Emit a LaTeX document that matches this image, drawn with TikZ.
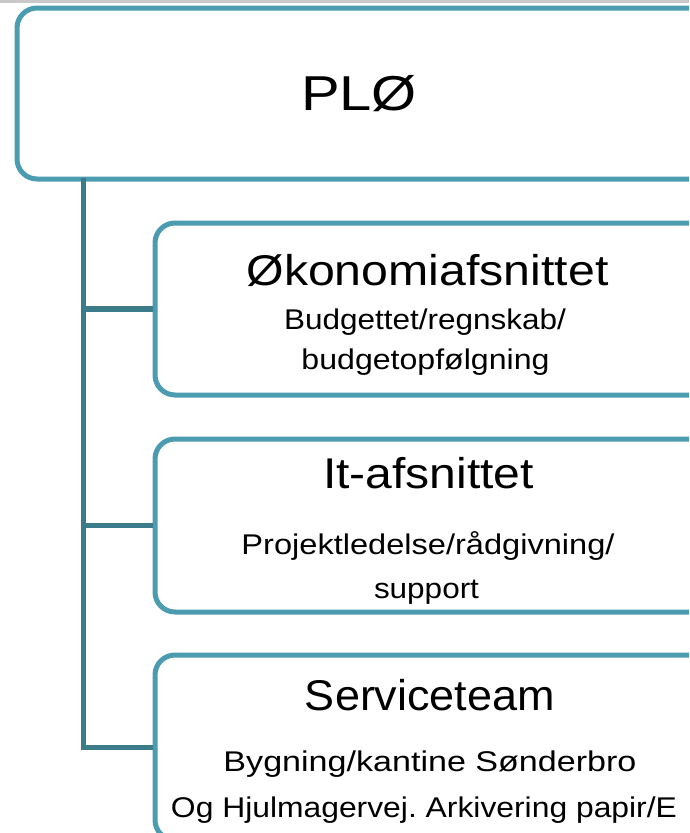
\documentclass[tikz,border=0pt]{standalone}
\usepackage{fontspec}
\setmainfont{Liberation Sans}
\usepackage{graphicx}
\frenchspacing
\definecolor{boxc}{RGB}{75,156,176}
\definecolor{linec}{RGB}{60,124,138}
\definecolor{bandc}{RGB}{200,200,200}
\newcommand{\fitw}[2]{\resizebox{#1pt}{\height}{#2}}
\begin{document}
\begin{tikzpicture}[x=1pt,y=-1pt,
  orgbox/.style={draw=boxc, line width=5pt, rounded corners=20pt, fill=white, anchor=north west, inner sep=0pt},
  conn/.style={draw=linec, line width=5.5pt},
  lbl/.style={anchor=base, inner sep=0pt, text=black},
  big/.style={font=\fontsize{49}{55}\selectfont},
  head/.style={font=\fontsize{43}{49}\selectfont},
  sub/.style={font=\fontsize{28.5}{33}\selectfont}]
\useasboundingbox (0,0) rectangle (689,833);
\clip (0,0) rectangle (689,833);
\fill[bandc] (0,0) rectangle (689,3);
% boxes
\node[orgbox, minimum width=700pt, minimum height=171pt] (plo) at (14.5,5.5) {};
\node[orgbox, minimum width=560pt, minimum height=172pt] (oko) at (152.5,220.5) {};
\node[orgbox, minimum width=560pt, minimum height=173pt] (it) at (152.5,436.5) {};
\node[orgbox, minimum width=560pt, minimum height=185pt] (svc) at (152.5,652.5) {};
% connectors
\coordinate (trunk) at (83.5,178);
\draw[conn] (trunk) |- (svc.west);
\draw[conn] (trunk |- oko.west) -- (oko.west);
\draw[conn] (trunk |- it.west) -- (it.west);
% labels
\node[lbl, big] (t0) at (359,110) {\fitw{116}{PLØ}};
\node[lbl, head] (t1) at (427.5,285) {\fitw{362}{Økonomiafsnittet}};
\node[lbl, sub] (t1a) at (425,329) {\fitw{282}{Budgettet/regnskab/}};
\node[lbl, sub] (t1b) at (425.5,369) {\fitw{248}{budgetopfølgning}};
\node[lbl, head] (t2) at (428.5,488) {\fitw{211}{It-afsnittet}};
\node[lbl, sub] (t2a) at (428,554) {\fitw{373}{Projektledelse/rådgivning/}};
\node[lbl, sub] (t2b) at (426.5,598) {\fitw{105}{support}};
\node[lbl, head] (t3) at (430,710) {\fitw{250}{Serviceteam}};
\node[lbl, sub] (t3a) at (430,771) {\fitw{413}{Bygning/kantine Sønderbro}};
\node[lbl, sub] (t3b) at (424,817) {\fitw{506}{Og Hjulmagervej. Arkivering papir/E}};
\end{tikzpicture}
\end{document}
